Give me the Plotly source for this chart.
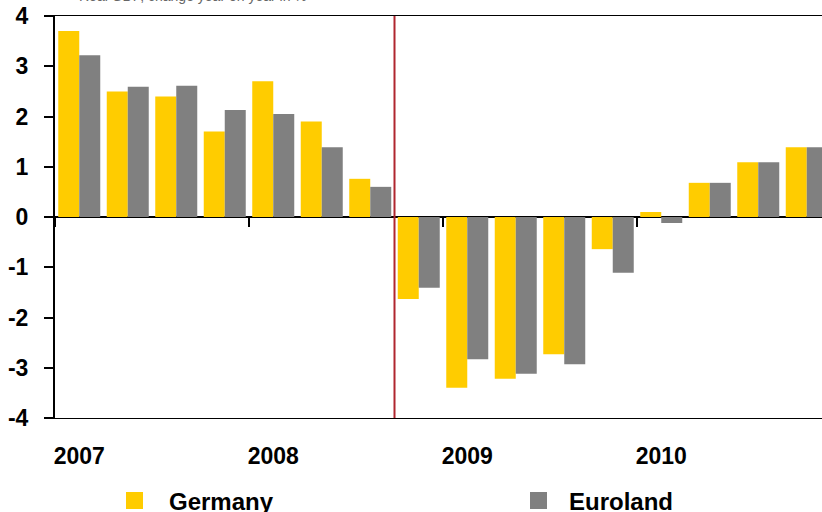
import plotly.graph_objects as go

quarters = [f"{y}Q{q}" for y in (2007, 2008, 2009, 2010) for q in (1, 2, 3, 4)]
germany = [3.7, 2.5, 2.4, 1.7, 2.7, 1.9, 0.76, -1.63, -3.4, -3.22, -2.73, -0.64, 0.1, 0.68, 1.09, 1.39]
euroland = [3.22, 2.59, 2.61, 2.13, 2.05, 1.39, 0.6, -1.41, -2.83, -3.12, -2.93, -1.11, -0.12, 0.68, 1.09, 1.39]
year_labels = ["2007", "2008", "2009", "2010"]
y_ticks = [-4, -3, -2, -1, 0, 1, 2, 3, 4]
y_tick_text = ["-4", "-3", "-2", "-1", "0", "1", "2", "3", "4"]
forecast_start = 7  # index of first forecast quarter

YELLOW = "#FFCC00"
GREY = "#808080"
RED = "#B0262F"
FONT = "Liberation Sans, Arial, sans-serif"

W, H = 822, 512
ML, MT, MB = 55, 16, 94
plot_w = W - ML
plot_h = H - MT - MB
cat_px = 48.5
x_idx = list(range(len(quarters)))

fig = go.Figure()
fig.add_trace(go.Bar(x=x_idx, y=germany, name="Germany", marker_color=YELLOW,
                     marker_line_width=0, showlegend=False))
fig.add_trace(go.Bar(x=x_idx, y=euroland, name="Euroland", marker_color=GREY,
                     marker_line_width=0, showlegend=False))

x_range = [-0.5, -0.5 + plot_w / cat_px]

fig.update_layout(
    width=W, height=H,
    margin=dict(l=ML, r=0, t=MT, b=MB, pad=0, autoexpand=False),
    paper_bgcolor="white", plot_bgcolor="white",
    barmode="group", bargap=0.134, bargroupgap=0,
    font=dict(family=FONT, color="black"),
    hovermode=False,
    xaxis=dict(
        range=x_range, tickmode="array", automargin=False,
        tickvals=[i * 4 for i in range(len(year_labels))], ticktext=year_labels,
        ticks="", showgrid=False, zeroline=False,
        showline=True, mirror=True, linecolor="black", linewidth=1.3,
        tickfont=dict(size=23, family=FONT, color="black", weight="bold"),
        ticklabelstandoff=17,
    ),
    xaxis2=dict(
        overlaying="x", anchor="free", position=0.5, side="bottom", automargin=False,
        range=x_range, tickmode="array",
        tickvals=[i * 4 - 0.5 for i in range(len(year_labels) + 1)],
        ticks="outside", ticklen=9, tickwidth=2, tickcolor="black",
        showticklabels=False, showline=False, showgrid=False, zeroline=False,
    ),
    yaxis=dict(
        range=[-4, 4], tickmode="array", tickvals=y_ticks, ticktext=y_tick_text,
        automargin=False,
        ticks="outside", ticklen=9, tickwidth=2, tickcolor="black",
        showline=True, linewidth=2, linecolor="black", mirror=False,
        showgrid=False, zeroline=True, zerolinecolor="black", zerolinewidth=2.5,
        tickfont=dict(size=23, family=FONT, color="black", weight="bold"),
        ticklabelstandoff=11,
    ),
)

# dummy trace to activate xaxis2
fig.add_trace(go.Scatter(x=[], y=[], xaxis="x2", showlegend=False))

# forecast divider
fig.add_shape(type="line", xref="x", yref="paper",
              x0=forecast_start - 0.5, x1=forecast_start - 0.5, y0=0, y1=1,
              line=dict(color=RED, width=2))

# legend (manual)
def px_x(px):
    return (px - ML) / plot_w

def px_y(py):
    return (H - MB - py) / plot_h

for (sx, tx, label, col) in [(126, 167, "Germany", YELLOW), (530, 567, "Euroland", GREY)]:
    fig.add_shape(type="rect", xref="paper", yref="paper",
                  x0=px_x(sx), x1=px_x(sx + 17), y0=px_y(509), y1=px_y(492),
                  fillcolor=col, line_width=0)
    fig.add_annotation(xref="paper", yref="paper", x=px_x(tx), y=px_y(501),
                       xanchor="left", yanchor="middle", showarrow=False,
                       text=f"<b>{label}</b>", font=dict(size=24, family=FONT, color="black"))

# cut-off subtitle at top
fig.add_annotation(xref="paper", yref="paper", x=px_x(77), y=px_y(6),
                   xanchor="left", yanchor="bottom", showarrow=False,
                   text="Real GDP, change year on year in %",
                   font=dict(size=14, family=FONT, color="#666666"))

fig.write_html("out.html", config={"displayModeBar": False, "staticPlot": True},
               post_script="document.body.style.margin='0';document.body.style.overflow='hidden';")
